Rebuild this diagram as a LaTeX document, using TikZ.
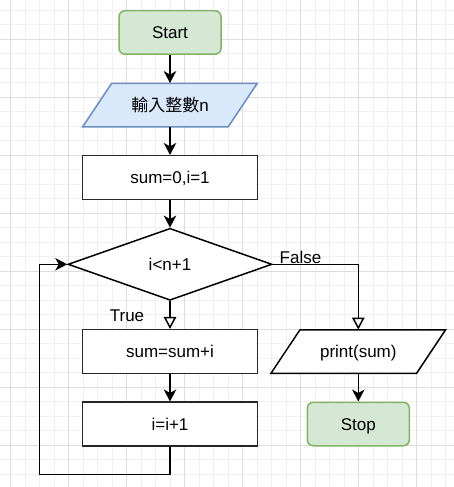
\documentclass[tikz,border=0pt]{standalone}
\usepackage{fontspec}
\setmainfont{Liberation Sans}
\newfontfamily\cjk{Noto Sans CJK TC}
\usetikzlibrary{arrows.meta,shapes.geometric,calc}
\definecolor{gridmin}{HTML}{F1F1F1}
\definecolor{gridmaj}{HTML}{DDDDDD}
\definecolor{greenfill}{HTML}{D5E8D4}
\definecolor{greenline}{HTML}{82B366}
\definecolor{bluefill}{HTML}{DAE8FC}
\definecolor{blueline}{HTML}{6C8EBF}
\tikzset{
  txt/.style={font=\fontsize{17}{20}\selectfont, inner sep=0pt, text height=12.3pt, text depth=0pt},
  terminal/.style={txt, draw=greenline, fill=greenfill, line width=1.5pt,
    rounded corners=6pt, minimum width=102pt, minimum height=43.5pt},
  procbox/.style={txt, draw=black!85, fill=white, line width=1.5pt,
    minimum width=174.6pt, minimum height=43.6pt},
  decbox/.style={txt, diamond, draw=black, fill=white, line width=1.5pt,
    minimum width=204pt, minimum height=72pt},
  iotext/.style={txt, minimum width=145.6pt, minimum height=43.5pt},
  flow/.style={line width=1.5pt, draw=black, -{Stealth[length=12pt,width=12.5pt,inset=3.5pt]}},
  branch/.style={line width=1.5pt, draw=black, -{Triangle[length=12pt,width=12.5pt,fill=white]}},
  lbl/.style={txt}
}
\newcommand\iopoly[4]{% center x, center y, fill, draw
  \filldraw[fill=#3, draw=#4, line width=1.5pt, line join=miter]
    (#1-58.3,#2-21.75) -- (#1+87.3,#2-21.75) -- (#1+58.3,#2+21.75) -- (#1-87.3,#2+21.75) -- cycle;}
\begin{document}
\begin{tikzpicture}[x=1pt,y=-1pt]
\useasboundingbox (0,0) rectangle (454,487);
\fill[white] (0,0) rectangle (454,487);
\begin{scope}
\clip (0,0) rectangle (454,487);
\foreach \i in {-1,...,31} \draw[gridmin, line width=0.8pt] ({10.5+14.5*\i},0) -- ({10.5+14.5*\i},487);
\foreach \i in {-3,...,31} \draw[gridmin, line width=0.8pt] (0,{39.3+14.5*\i}) -- (454,{39.3+14.5*\i});
\foreach \i in {0,...,7} \draw[gridmaj, line width=0.8pt] ({10.5+58*\i},0) -- ({10.5+58*\i},487);
\foreach \i in {-1,...,7} \draw[gridmaj, line width=0.8pt] (0,{39.3+58*\i}) -- (454,{39.3+58*\i});
\end{scope}

\node[terminal] (start) at (170,32.5) {Start};
\iopoly{170}{105}{bluefill}{blueline}
\node[iotext] (in) at (170,105) {{\cjk 輸入整數}n};
\node[procbox] (s0) at (170,177.5) {sum=0,i=1};
\node[decbox] (dec) at (170,264.3) {i<n+1};
\node[procbox] (s1) at (170,351.5) {sum=sum+i};
\node[procbox] (s2) at (170,424) {i=i+1};
\iopoly{358.3}{351.5}{white}{black}
\node[iotext] (pr) at (358.3,351.5) {print(sum)};
\node[terminal] (stop) at (358.3,424) {Stop};

\node[lbl] (tl) at (127,315.2) {True};
\node[lbl] (fl) at (300.5,257.5) {False};

\coordinate (lp) at (39.3,474.3);

\draw[flow] (start.south) -- (in.north);
\draw[flow] (in.south) -- (s0.north);
\draw[flow] (s0.south) -- (dec.north);
\draw[branch] (dec.south) -- (s1.north);
\draw[branch] (dec.east) -| (pr.north);
\draw[flow] (s1.south) -- (s2.north);
\draw[flow] (pr.south) -- (stop.north);
\draw[flow] (s2.south) |- (lp) |- (dec.west);
\end{tikzpicture}
\end{document}
